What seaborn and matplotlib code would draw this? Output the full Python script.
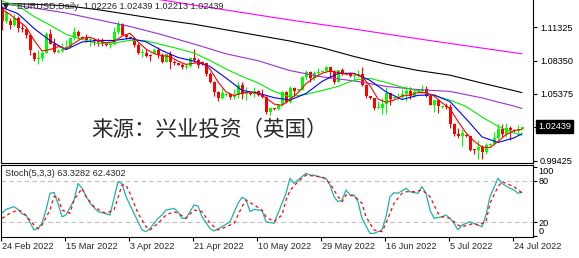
import matplotlib
matplotlib.use("Agg")
import matplotlib.pyplot as plt
import matplotlib.transforms as mtransforms
import seaborn as sns

sns.set_style("white")
plt.rcParams['font.family'] = ['Liberation Sans', 'DejaVu Sans']

# EURUSD daily bars, 24 Feb 2022 .. 26 Jul 2022 (feed has short Sunday bars)
opens = [
    1.1307, 1.1193, 1.1190, 1.1155, 1.1220, 1.1125, 1.1118, 1.1065, 1.0900, 1.0850,
    1.0855, 1.0903, 1.1077, 1.0985, 1.0915, 1.0925, 1.0941, 1.0955, 1.1035, 1.1092,
    1.1045, 1.1040, 1.1015, 1.1017, 1.1006, 1.0997, 1.0980, 1.0970, 1.0985, 1.1090,
    1.1158, 1.1067, 1.1040, 1.1035, 1.0970, 1.0903, 1.0903, 1.0878, 1.0900, 1.0930,
    1.0886, 1.0826, 1.0890, 1.0826, 1.0810, 1.0800, 1.0780, 1.0787, 1.0854, 1.0837,
    1.0820, 1.0810, 1.0716, 1.0640, 1.0559, 1.0498, 1.0530, 1.0540, 1.0507, 1.0524,
    1.0620, 1.0540, 1.0540, 1.0535, 1.0560, 1.0530, 1.0512, 1.0380, 1.0405, 1.0400,
    1.0436, 1.0554, 1.0465, 1.0586, 1.0570, 1.0575, 1.0691, 1.0733, 1.0678, 1.0727,
    1.0735, 1.0740, 1.0779, 1.0733, 1.0647, 1.0750, 1.0715, 1.0720, 1.0695, 1.0705,
    1.0716, 1.0615, 1.0515, 1.0500, 1.0409, 1.0415, 1.0445, 1.0547, 1.0500, 1.0505,
    1.0510, 1.0535, 1.0567, 1.0522, 1.0560, 1.0565, 1.0585, 1.0519, 1.0443, 1.0484,
    1.0420, 1.0425, 1.0424, 1.0265, 1.0182, 1.0162, 1.0170, 1.0160, 1.0038, 1.0036,
    1.0062, 1.0020, 1.0080, 1.0090, 1.0143, 1.0226, 1.0180, 1.0229, 1.0210, 1.0205,
    1.02226]
highs = [
    1.1320, 1.1274, 1.1215, 1.1247, 1.1235, 1.1168, 1.1122, 1.1067, 1.0910, 1.0930,
    1.0920, 1.1090, 1.1121, 1.1040, 1.0935, 1.0990, 1.1020, 1.1040, 1.1135, 1.1110,
    1.1055, 1.1070, 1.1045, 1.1040, 1.1040, 1.1038, 1.0990, 1.0995, 1.1135, 1.1185,
    1.1170, 1.1075, 1.1050, 1.1045, 1.0990, 1.0935, 1.0940, 1.0890, 1.0950, 1.0955,
    1.0900, 1.0895, 1.0925, 1.0840, 1.0815, 1.0815, 1.0810, 1.0865, 1.0936, 1.0860,
    1.0830, 1.0815, 1.0730, 1.0650, 1.0567, 1.0590, 1.0545, 1.0545, 1.0580, 1.0640,
    1.0640, 1.0600, 1.0550, 1.0595, 1.0575, 1.0580, 1.0520, 1.0420, 1.0415, 1.0445,
    1.0563, 1.0565, 1.0605, 1.0595, 1.0580, 1.0697, 1.0749, 1.0740, 1.0740, 1.0765,
    1.0745, 1.0787, 1.0780, 1.0750, 1.0753, 1.0765, 1.0725, 1.0730, 1.0710, 1.0750,
    1.0775, 1.0630, 1.0520, 1.0505, 1.0475, 1.0505, 1.0601, 1.0550, 1.0510, 1.0545,
    1.0582, 1.0605, 1.0595, 1.0570, 1.0570, 1.0615, 1.0606, 1.0530, 1.0486, 1.0485,
    1.0430, 1.0460, 1.0445, 1.0275, 1.0230, 1.0225, 1.0180, 1.0165, 1.0050, 1.0125,
    1.0080, 1.0095, 1.0095, 1.0200, 1.0273, 1.0270, 1.0278, 1.0255, 1.0220, 1.0258,
    1.02439]
lows = [
    1.1106, 1.1168, 1.1120, 1.1140, 1.1088, 1.1087, 1.1040, 1.0885, 1.0830, 1.0806,
    1.0830, 1.0900, 1.0980, 1.0905, 1.0905, 1.0915, 1.0935, 1.0950, 1.1020, 1.1030,
    1.1035, 1.0998, 1.0963, 1.0970, 1.0965, 1.0965, 1.0965, 1.0945, 1.0975, 1.1070,
    1.1060, 1.1025, 1.1030, 1.0960, 1.0895, 1.0870, 1.0870, 1.0835, 1.0890, 1.0860,
    1.0810, 1.0820, 1.0757, 1.0800, 1.0795, 1.0760, 1.0760, 1.0780, 1.0825, 1.0770,
    1.0800, 1.0700, 1.0635, 1.0515, 1.0472, 1.0490, 1.0520, 1.0490, 1.0495, 1.0505,
    1.0493, 1.0485, 1.0525, 1.0510, 1.0515, 1.0500, 1.0354, 1.0350, 1.0395, 1.0390,
    1.0430, 1.0460, 1.0460, 1.0532, 1.0560, 1.0570, 1.0660, 1.0640, 1.0660, 1.0700,
    1.0730, 1.0730, 1.0683, 1.0630, 1.0645, 1.0705, 1.0710, 1.0690, 1.0655, 1.0690,
    1.0610, 1.0505, 1.0495, 1.0397, 1.0400, 1.0358, 1.0360, 1.0443, 1.0490, 1.0485,
    1.0500, 1.0470, 1.0490, 1.0510, 1.0555, 1.0550, 1.0508, 1.0435, 1.0380, 1.0365,
    1.0410, 1.0405, 1.0235, 1.0160, 1.0140, 1.0070, 1.0150, 1.0030, 0.9999, 0.9952,
    0.9952, 1.0005, 1.0075, 1.0085, 1.0125, 1.0155, 1.0150, 1.0130, 1.0200, 1.0180,
    1.02213]
closes = [
    1.1193, 1.1269, 1.1155, 1.1220, 1.1125, 1.1118, 1.1065, 1.0930, 1.0850, 1.0855,
    1.0903, 1.1077, 1.0985, 1.0912, 1.0925, 1.0941, 1.0955, 1.1035, 1.1092, 1.1051,
    1.1040, 1.1015, 1.1017, 1.1006, 1.0997, 1.0983, 1.0970, 1.0985, 1.1090, 1.1158,
    1.1067, 1.1045, 1.1035, 1.0970, 1.0903, 1.0903, 1.0878, 1.0877, 1.0930, 1.0886,
    1.0826, 1.0890, 1.0826, 1.0810, 1.0800, 1.0780, 1.0787, 1.0854, 1.0837, 1.0797,
    1.0810, 1.0716, 1.0640, 1.0559, 1.0498, 1.0545, 1.0540, 1.0507, 1.0524, 1.0620,
    1.0540, 1.0550, 1.0535, 1.0560, 1.0530, 1.0512, 1.0380, 1.0411, 1.0400, 1.0436,
    1.0554, 1.0465, 1.0586, 1.0562, 1.0575, 1.0691, 1.0733, 1.0678, 1.0727, 1.0732,
    1.0740, 1.0779, 1.0733, 1.0647, 1.0750, 1.0719, 1.0720, 1.0695, 1.0705, 1.0716,
    1.0615, 1.0519, 1.0500, 1.0409, 1.0415, 1.0445, 1.0547, 1.0496, 1.0505, 1.0510,
    1.0535, 1.0567, 1.0522, 1.0555, 1.0565, 1.0585, 1.0519, 1.0443, 1.0484, 1.0426,
    1.0425, 1.0424, 1.0265, 1.0182, 1.0162, 1.0186, 1.0160, 1.0038, 1.0036, 1.0062,
    1.0020, 1.0083, 1.0090, 1.0143, 1.0226, 1.0180, 1.0229, 1.0211, 1.0205, 1.0223,
    1.02439]

# moving average lines at every 2nd / 4th / 8th bar
ma_bars_2 = list(range(0, 131, 2))
ma_red = [1.1293, 1.1247, 1.1192, 1.1137, 1.1018, 1.0921, 1.0934, 1.0960, 1.0944, 1.0990,
          1.1035, 1.1043, 1.1015, 1.0995, 1.1005, 1.1054, 1.1079, 1.1004, 1.0938, 1.0898,
          1.0879, 1.0872, 1.0830, 1.0801, 1.0812, 1.0817, 1.0760, 1.0645, 1.0556, 1.0523,
          1.0546, 1.0554, 1.0543, 1.0503, 1.0447, 1.0436, 1.0488, 1.0548, 1.0629, 1.0681,
          1.0722, 1.0742, 1.0730, 1.0714, 1.0718, 1.0690, 1.0611, 1.0492, 1.0463, 1.0482,
          1.0519, 1.0528, 1.0549, 1.0549, 1.0519, 1.0459, 1.0405, 1.0292, 1.0191, 1.0116,
          1.0063, 1.0058, 1.0112, 1.0174, 1.0210, 1.0222]
ma_bars_4 = list(range(0, 129, 4)) + [130]
ma_blue = [1.1310, 1.1254, 1.1123, 1.1013, 1.0933, 1.1001, 1.1015, 1.1015, 1.1034, 1.1003,
           1.0925, 1.0863, 1.0830, 1.0783, 1.0680, 1.0569, 1.0545, 1.0504, 1.0483, 1.0541,
           1.0649, 1.0721, 1.0722, 1.0659, 1.0557, 1.0488, 1.0525, 1.0529, 1.0469, 1.0316,
           1.0154, 1.0104, 1.0145, 1.0183]
ma_green = [1.1365, 1.1326, 1.1229, 1.1152, 1.1070, 1.1025, 1.0988, 1.0992, 1.1016, 1.1012,
            1.0977, 1.0942, 1.0903, 1.0836, 1.0760, 1.0694, 1.0636, 1.0559, 1.0513, 1.0534,
            1.0568, 1.0605, 1.0661, 1.0677, 1.0640, 1.0598, 1.0563, 1.0523, 1.0482, 1.0426,
            1.0331, 1.0248, 1.0188, 1.0168]
ma_bars_8 = list(range(0, 129, 8)) + [130]
ma_purple = [1.1343, 1.1305, 1.1260, 1.1200, 1.1140, 1.1066, 1.0983, 1.0896, 1.0834,
             1.0746, 1.0690, 1.0654, 1.0605, 1.0576, 1.0560, 1.0502, 1.0429, 1.0408]
ma_black = [1.1345, 1.1338, 1.1325, 1.1290, 1.1245, 1.1200, 1.1160, 1.1110, 1.1060,
            1.1010, 1.0950, 1.0872, 1.0803, 1.0747, 1.0705, 1.0634, 1.0567, 1.0549]
ma_magenta = [1.1595, 1.1551, 1.1507, 1.1463, 1.1420, 1.1376, 1.1331, 1.1287, 1.1242,
              1.1198, 1.1157, 1.1117, 1.1073, 1.1030, 1.0988, 1.0947, 1.0906, 1.0896]

# Stochastic(5,3,3): main and signal lines
stoch_k_bars = [0, 1, 3, 4, 5, 6, 8, 9, 10, 11, 12, 13, 14, 15, 16, 18, 19, 20, 22, 24, 25, 27,
                29, 30, 31, 33, 35, 36, 37, 39, 40, 41, 43, 44, 45, 46, 48, 49, 50, 52, 53, 55,
                57, 59, 60, 61, 62, 63, 65, 66, 68, 69, 71, 72, 73, 74, 76, 77, 78, 79, 81, 82,
                83, 84, 85, 86, 87, 88, 89, 90, 92, 93, 95, 96, 97, 98, 99, 101, 102, 104, 105,
                106, 107, 108, 110, 111, 112, 113, 114, 115, 117, 119, 120, 121, 122, 124, 125,
                127, 128, 129, 130]
stoch_k = [33, 38.7, 42.5, 38.7, 32, 30.5, 9, 11, 18.5, 37.7, 61.8, 63, 47, 28, 30.5, 52, 76, 69,
           47.4, 35.3, 34, 30.5, 78.6, 76, 57, 33, 9, 6.4, 11, 25.7, 30.5, 37.7, 40, 35, 25.7,
           25.7, 45, 43.5, 28, 11, 7.4, 13.6, 20.8, 47.4, 56, 53, 35.3, 38.7, 36.7, 20.8, 18.5,
           33, 61.8, 83.4, 76, 81, 90.6, 88, 88, 85.8, 83.4, 73.8, 57, 49.7, 52, 66.6, 59.4,
           59.4, 49.7, 25.7, 4, 4, 9, 28, 57, 62.7, 61.8, 69, 64, 61.8, 71.3, 61.8, 37.7, 25.7,
           28, 30.5, 25.7, 18.5, 9, 16, 20.8, 16, 13.6, 30.5, 57, 83.4, 76, 69, 66.6, 61.8, 63.3]
stoch_d_bars = [0, 2, 4, 5, 7, 8, 9, 10, 12, 13, 14, 15, 17, 18, 20, 21, 23, 25, 26, 28, 30, 31,
                32, 34, 36, 37, 39, 41, 43, 44, 46, 48, 50, 52, 54, 55, 58, 60, 61, 63, 65, 66,
                68, 70, 71, 72, 74, 76, 78, 80, 82, 84, 85, 86, 88, 90, 91, 93, 95, 96, 98, 100,
                101, 103, 105, 107, 109, 110, 112, 114, 115, 118, 119, 121, 122, 124, 125, 128, 130]
stoch_d = [25.7, 33, 37.7, 35.3, 23, 16, 11, 16, 37.7, 57, 57, 37.7, 33, 52, 69, 57, 42.5, 35.3,
           33, 37.7, 73.8, 73.8, 61.8, 33, 13.6, 9, 18.5, 30.5, 35.3, 33, 25.7, 37.7, 35.3,
           18.5, 9, 11, 18.5, 42.5, 52, 45, 37.7, 28, 20.8, 30.5, 52, 66, 78.6, 88, 86.6, 85.8,
           76, 57, 49.7, 59.4, 58, 47.4, 28, 9, 6.4, 18.5, 47.4, 61.8, 64, 64, 66.6, 57, 33, 28,
           25.7, 16, 13.6, 18.5, 16, 20.8, 47.4, 71.3, 78.6, 71.3, 62.4]

price_ticks = [1.11325, 1.08350, 1.05375, 1.02400, 0.99425]
date_tick_bars = [0, 16, 32, 48, 64, 80, 96, 112, 128]
date_tick_labels = ['24 Feb 2022', '15 Mar 2022', '3 Apr 2022', '21 Apr 2022', '10 May 2022',
                    '29 May 2022', '16 Jun 2022', '5 Jul 2022', '24 Jul 2022']

W, H = 579, 258
fig = plt.figure(figsize=(W / 100, H / 100), dpi=100)
ax = fig.add_axes([1 / W, 1 - 163 / H, 532 / W, 163 / H])
ax2 = fig.add_axes([1 / W, 1 - 237 / H, 532 / W, 72 / H])

# candles
bars = list(range(len(closes)))
cols = ['#00ff00' if c >= o else '#ff0000' for o, c in zip(opens, closes)]
body_low = [min(o, c) for o, c in zip(opens, closes)]
body_h = [max(abs(c - o), 0.0009) for o, c in zip(opens, closes)]
ax.vlines(bars, lows, highs, colors=cols, linewidth=0.8, zorder=2)
ax.bar(bars, body_h, bottom=body_low, width=0.75, color=cols, linewidth=0, zorder=2)

# moving averages
for xs, ys, col in [(ma_bars_8, ma_magenta, '#ff00ff'), (ma_bars_8, ma_black, 'black'),
                    (ma_bars_8, ma_purple, '#9932cc'), (ma_bars_4, ma_green, '#00ee00'),
                    (ma_bars_4, ma_blue, '#0000ff'), (ma_bars_2, ma_red, '#ff0000')]:
    sns.lineplot(x=xs, y=ys, ax=ax, color=col, linewidth=0.8, estimator=None, sort=False, zorder=3)

ax.set_xlim(-0.25, 132.75)
ax.set_ylim(0.99207, 1.13763)
ax.set_xticks([])
ax.set_xlabel('')
ax.set_ylabel('')
ax.yaxis.tick_right()
ax.set_yticks(price_ticks)
ax.set_yticklabels(['' if p == 1.024 else f'{p:.5f}' for p in price_ticks])
ax.tick_params(axis='y', right=True, left=False, labelright=True, labelleft=False,
               direction='out', length=3, width=0.8, pad=2, labelsize=6.6, colors='black')
for side in ['left', 'right', 'bottom']:
    ax.spines[side].set_color('black')
    ax.spines[side].set_linewidth(0.8)
ax.spines['top'].set_visible(False)

# current price marker
trans = mtransforms.blended_transform_factory(ax.transAxes, ax.transData)
ax.text(1.0094, closes[-1], f'{closes[-1]:.5f}', transform=trans, ha='left', va='center',
        color='white', fontsize=6.6, clip_on=False, zorder=5,
        bbox=dict(boxstyle='square,pad=0.2', fc='black', ec='black'))

# stochastic panel
ax2.axhline(80, color='#c0c0c0', linewidth=0.8, linestyle=(0, (4, 3)), zorder=1)
ax2.axhline(20, color='#c0c0c0', linewidth=0.8, linestyle=(0, (4, 3)), zorder=1)
sns.lineplot(x=stoch_k_bars, y=stoch_k, ax=ax2, color='#20b2aa', linewidth=0.9,
             estimator=None, sort=False, zorder=3)
sns.lineplot(x=stoch_d_bars, y=stoch_d, ax=ax2, color='#ff0000', linewidth=0.9,
             linestyle=(0, (2.5, 2.5)), estimator=None, sort=False, zorder=4)
ax2.set_xlim(-0.25, 132.75)
ax2.set_ylim(-1.2, 102.6)
ax2.set_xlabel('')
ax2.set_ylabel('')
ax2.yaxis.tick_right()
ax2.set_yticks([0, 20, 80, 100])
labs = ax2.set_yticklabels(['0', '20', '80', '100'])
labs[0].set_va('bottom')
labs[3].set_va('top')
ax2.tick_params(axis='y', right=True, left=False, labelright=True, labelleft=False,
                direction='out', length=3, width=0.8, pad=1, labelsize=6.6, colors='black')
ax2.set_xticks([b - 0.25 for b in date_tick_bars])
ax2.set_xticklabels([])
ax2.tick_params(axis='x', bottom=True, direction='out', length=3, width=0.8, colors='black')
for side in ax2.spines:
    ax2.spines[side].set_color('black')
    ax2.spines[side].set_linewidth(0.8)

xtrans = mtransforms.blended_transform_factory(ax2.transData, ax2.transAxes)
for b, lab in zip(date_tick_bars, date_tick_labels):
    ax2.text(b + 0.1, -0.135, lab, transform=xtrans, ha='left', va='center',
             fontsize=6.6, clip_on=False)

# headers
fig.text(3 / W, 1 - 6.5 / H, '\u25bc', fontsize=5.5, va='center', ha='left',
         family=['DejaVu Sans'])
fig.text(17 / W, 1 - 6.7 / H, 'EURUSD,Daily  1.02226 1.02439 1.02213 1.02439',
         fontsize=6.6, va='center', ha='left')
fig.text(5 / W, 1 - 173.3 / H, 'Stoch(5,3,3) 63.3282 62.4302', fontsize=6.6,
         va='center', ha='left')

# watermark
fig.text(210 / W, 1 - 130 / H, '来源：兴业投资（英国）', fontsize=15.5, color='#2b2b2b',
         ha='center', va='center', family=['Noto Sans CJK SC', 'DejaVu Sans'])

fig.savefig('out.png', dpi=100)
